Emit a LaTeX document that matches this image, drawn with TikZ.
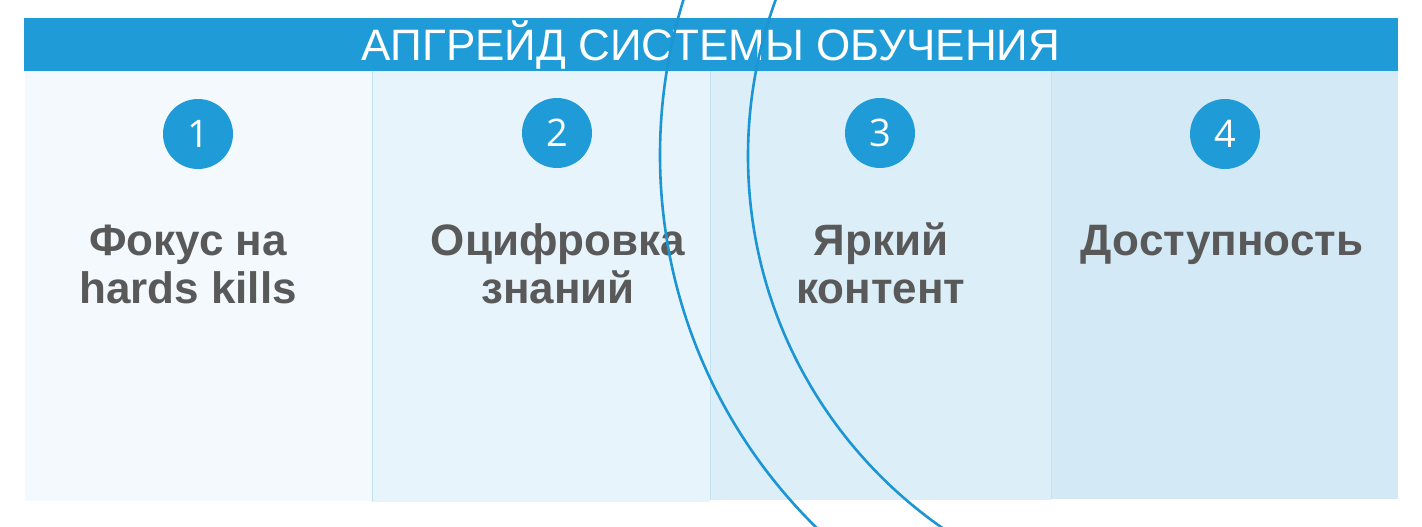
\documentclass[tikz,border=0pt]{standalone}
\usepackage{fontspec}
\setmainfont{Liberation Sans}
\newfontfamily\numfont{Open Sans}
\definecolor{banner}{HTML}{1F9BD7}
\definecolor{cA}{HTML}{F3F9FD}
\definecolor{cB}{HTML}{E8F4FB}
\definecolor{cC}{HTML}{DCEEF8}
\definecolor{cD}{HTML}{D3EAF6}
\definecolor{edge}{HTML}{C2E2F4}
\definecolor{arcblue}{HTML}{1B95D4}
\definecolor{txtgray}{HTML}{595959}
\begin{document}
\begin{tikzpicture}[x=1pt,y=-1pt,
  colbox/.style={rectangle, inner sep=0pt, anchor=north west, draw=none},
  edgeline/.style={draw=edge, line width=1pt},
  numcirc/.style={circle, fill=banner, minimum size=70pt, inner sep=0pt, text=white, font=\numfont\fontsize{38}{40}\selectfont},
  label/.style={text=txtgray, align=center, anchor=base, inner sep=0pt, font=\bfseries\fontsize{44}{48}\selectfont},
  arcline/.style={draw=arcblue, line width=2.6pt}]
\useasboundingbox (0,0) rectangle (1422,527);
\fill[white] (0,0) rectangle (1422,527);
% columns
\node[colbox, fill=cA, minimum width=347pt, minimum height=430pt] (col1) at (25,71) {};
\node[colbox, fill=cB, minimum width=338pt, minimum height=431pt] (col2) at (372,71) {};
\node[colbox, fill=cC, minimum width=341pt, minimum height=429pt] (col3) at (710,71) {};
\node[colbox, fill=cD, minimum width=347pt, minimum height=428pt] (col4) at (1051,71) {};
\draw[edgeline] (col2.north west) -- (col2.south west);
\draw[edgeline] (col3.north west) -- (col3.south west);
\draw[edgeline] (col4.north west) -- (col4.south west);
% banner
\node[rectangle, fill=banner, inner sep=0pt, anchor=north west, minimum width=1374pt, minimum height=53pt] (banner) at (24,18) {};
\node[text=white, anchor=base, inner sep=0pt, font=\fontsize{44}{50}\selectfont] (title) at (711,61) {АПГРЕЙД СИСТЕМЫ ОБУЧЕНИЯ};
% numbers
\node[numcirc] (n1) at (198,134) {1};
\node[numcirc] (n2) at (557,133) {2};
\node[numcirc] (n3) at (880,133) {3};
\node[numcirc] (n4) at (1225,134) {4};
% labels (base anchor = baseline of the last line)
\node[label] (t1) at (188,303) {Фокус на\\hards kills};
\node[label] (t2) at (558,303) {Оцифровка\\знаний};
\node[label] (t3) at (881,303) {Яркий\\контент};
\node[label] (t4) at (1222,255) {Доступность};
% arcs
\begin{scope}
\clip (0,0) rectangle (1422,527);
\draw[arcline] (1182,155) circle [radius=522];
\draw[arcline] (1201,156) circle [radius=453];
\end{scope}
\end{tikzpicture}
\end{document}
